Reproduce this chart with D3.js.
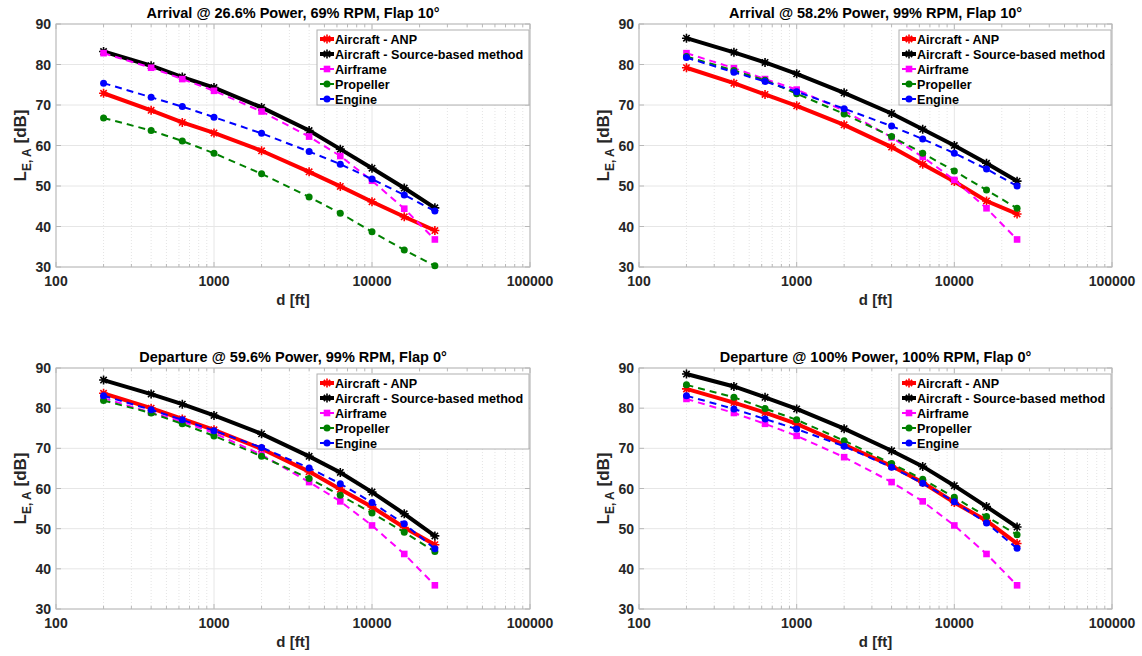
<!DOCTYPE html>
<html>
<head>
<meta charset="utf-8">
<script src="https://cdn.jsdelivr.net/npm/d3@7"></script>
<style>
  body { margin: 0; background: #fff; }
  svg { font-family: "Liberation Sans", Arial, Helvetica, sans-serif; font-weight: bold; }
</style>
</head>
<body>
<div id="graph"></div>
<script>
// distances [ft]
const distances = [200, 400, 630, 1000, 2000, 4000, 6300, 10000, 16000, 25000]

const titles = [
    "Arrival @ 26.6% Power, 69% RPM, Flap 10°",
    "Arrival @ 58.2% Power, 99% RPM, Flap 10°",
    "Departure @ 59.6% Power, 99% RPM, Flap 0°",
    "Departure @ 100% Power, 100% RPM, Flap 0°"
]

const seriesNames = ["Aircraft - ANP", "Aircraft - Source-based method", "Airframe", "Propeller", "Engine"]
const xTicks = [100, 1000, 10000, 100000]
const yTicks = [30, 40, 50, 60, 70, 80, 90]

// Arrival 26.6%
const anp1 = [72.9, 68.7, 65.7, 63.1, 58.7, 53.5, 49.9, 46.1, 42.4, 39.0]
const src1 = [83.2, 79.7, 76.9, 74.3, 69.4, 63.7, 59.1, 54.4, 49.5, 44.6]
const air1 = [82.8, 79.2, 76.4, 73.5, 68.4, 62.2, 57.4, 51.3, 44.4, 36.8]
const prop1 = [66.8, 63.7, 61.1, 58.1, 53.0, 47.3, 43.3, 38.7, 34.2, 30.3]
const eng1 = [75.4, 71.9, 69.6, 67.0, 63.0, 58.5, 55.4, 51.7, 47.8, 43.8]

// Arrival 58.2%
const anp2 = [79.2, 75.4, 72.6, 69.8, 65.1, 59.6, 55.4, 51.1, 46.3, 43.1]
const src2 = [86.5, 83.0, 80.5, 77.7, 73.0, 67.9, 64.0, 60.0, 55.6, 51.2]
const air2 = [82.8, 79.1, 76.4, 73.8, 68.6, 62.0, 57.2, 51.5, 44.5, 36.8]
const prop2 = [82.0, 78.5, 76.1, 72.8, 67.8, 62.2, 58.1, 53.7, 49.0, 44.5]
const eng2 = [81.7, 78.1, 75.8, 73.3, 69.1, 64.8, 61.6, 58.1, 54.2, 50.0]

// Departure 59.6%
const anp3 = [83.7, 80.0, 77.3, 74.6, 69.9, 64.2, 59.8, 55.4, 50.3, 46.0]
const src3 = [87.0, 83.5, 81.0, 78.2, 73.6, 68.0, 64.0, 59.1, 53.7, 48.2]
const air3 = [82.5, 78.9, 76.7, 73.8, 68.4, 61.6, 56.8, 50.8, 43.7, 35.9]
const prop3 = [81.9, 78.8, 76.1, 73.1, 68.0, 62.5, 58.3, 53.9, 49.1, 44.3]
const eng3 = [83.1, 79.6, 77.1, 74.4, 70.2, 65.1, 61.2, 56.5, 51.2, 45.0]

// Departure 100%
const anp4 = [84.8, 81.4, 78.9, 76.1, 70.9, 65.6, 61.5, 56.5, 52.0, 46.3]
const src4 = [88.5, 85.4, 82.7, 79.8, 74.9, 69.4, 65.5, 60.7, 55.5, 50.4]
const air4 = [82.3, 78.8, 76.1, 73.1, 67.8, 61.6, 56.8, 50.8, 43.7, 35.9]
const prop4 = [85.8, 82.7, 79.9, 77.1, 71.9, 66.2, 62.3, 57.8, 53.0, 48.5]
const eng4 = [83.1, 79.8, 77.3, 74.8, 70.5, 65.3, 61.3, 56.7, 51.4, 45.1]

const panelData = [
    [anp1, src1, air1, prop1, eng1],
    [anp2, src2, air2, prop2, eng2],
    [anp3, src3, air3, prop3, eng3],
    [anp4, src4, air4, prop4, eng4]
]

const width = 1142
const height = 656

const styles = [
    { color: "#ff0000", width: 4, dash: null, marker: "star" },
    { color: "#000000", width: 4, dash: null, marker: "star" },
    { color: "#ff00ff", width: 2, dash: "7,5", marker: "square" },
    { color: "#008000", width: 2, dash: "7,5", marker: "circle" },
    { color: "#0000ff", width: 2, dash: "7,5", marker: "circle" }
]

const boxes = [
    { x0: 56, x1: 530, y0: 24, y1: 267 },
    { x0: 639, x1: 1112, y0: 24, y1: 267 },
    { x0: 56, x1: 530, y0: 368, y1: 609 },
    { x0: 639, x1: 1112, y0: 368, y1: 609 }
]

const svg = d3.select("#graph").append("svg")
    .attr("width", width)
    .attr("height", height)

const minorTicks = []
for (let e = 100; e < 100000; e *= 10) {
    for (let k = 2; k <= 9; k++) minorTicks.push(k * e)
}

function drawMarker(g, type, cx, cy, color) {
    if (type === "star") {
        const r = 4.5
        const p = []
        for (let i = 0; i < 4; i++) {
            const a = i * Math.PI / 4
            p.push(`M${cx - r * Math.cos(a)},${cy - r * Math.sin(a)}L${cx + r * Math.cos(a)},${cy + r * Math.sin(a)}`)
        }
        g.append("path").attr("d", p.join("")).attr("stroke", color).attr("stroke-width", 1.6).attr("fill", "none")
    } else if (type === "square") {
        g.append("rect").attr("x", cx - 3.3).attr("y", cy - 3.3).attr("width", 6.6).attr("height", 6.6).attr("fill", color)
    } else {
        g.append("circle").attr("cx", cx).attr("cy", cy).attr("r", 3.5).attr("fill", color)
    }
}

boxes.forEach((b, pi) => {
    const x = d3.scaleLog().domain([100, 100000]).range([b.x0, b.x1])
    const y = d3.scaleLinear().domain([30, 90]).range([b.y1, b.y0])
    const g = svg.append("g")

    // grid
    g.append("g").selectAll("line").data(minorTicks).join("line")
        .attr("x1", d => x(d)).attr("x2", d => x(d))
        .attr("y1", b.y0).attr("y2", b.y1)
        .attr("stroke", "#e4e4e4").attr("stroke-width", 1).attr("stroke-dasharray", "1,2")
    g.append("g").selectAll("line").data(xTicks).join("line")
        .attr("x1", d => x(d)).attr("x2", d => x(d))
        .attr("y1", b.y0).attr("y2", b.y1)
        .attr("stroke", "#e6e6e6")
    g.append("g").selectAll("line").data(yTicks).join("line")
        .attr("x1", b.x0).attr("x2", b.x1)
        .attr("y1", d => y(d)).attr("y2", d => y(d))
        .attr("stroke", "#e6e6e6")

    // tick marks (inside, on both sides)
    const tk = g.append("g").attr("stroke", "#b8b8b8")
    minorTicks.forEach(d => {
        tk.append("line").attr("x1", x(d)).attr("x2", x(d)).attr("y1", b.y1).attr("y2", b.y1 - 3)
        tk.append("line").attr("x1", x(d)).attr("x2", x(d)).attr("y1", b.y0).attr("y2", b.y0 + 3)
    })
    xTicks.forEach(d => {
        tk.append("line").attr("x1", x(d)).attr("x2", x(d)).attr("y1", b.y1).attr("y2", b.y1 - 5)
        tk.append("line").attr("x1", x(d)).attr("x2", x(d)).attr("y1", b.y0).attr("y2", b.y0 + 5)
    })
    yTicks.forEach(d => {
        tk.append("line").attr("x1", b.x0).attr("x2", b.x0 + 5).attr("y1", y(d)).attr("y2", y(d))
        tk.append("line").attr("x1", b.x1).attr("x2", b.x1 - 5).attr("y1", y(d)).attr("y2", y(d))
    })

    // box
    g.append("rect")
        .attr("x", b.x0).attr("y", b.y0)
        .attr("width", b.x1 - b.x0).attr("height", b.y1 - b.y0)
        .attr("fill", "none").attr("stroke", "#b8b8b8").attr("stroke-width", 1)

    // tick labels
    g.append("g").selectAll("text").data(xTicks).join("text")
        .attr("x", d => x(d)).attr("y", b.y1 + 19)
        .attr("text-anchor", "middle").attr("font-size", 14).attr("fill", "#262626")
        .text(d => d)
    g.append("g").selectAll("text").data(yTicks).join("text")
        .attr("x", b.x0 - 5).attr("y", d => y(d) + 5)
        .attr("text-anchor", "end").attr("font-size", 14).attr("fill", "#262626")
        .text(d => d)

    // axis labels
    g.append("text")
        .attr("x", (b.x0 + b.x1) / 2).attr("y", b.y1 + 38)
        .attr("text-anchor", "middle").attr("font-size", 15).attr("fill", "#262626")
        .text("d [ft]")
    const yl = g.append("text")
        .attr("transform", `translate(${b.x0 - 30},${(b.y0 + b.y1) / 2}) rotate(-90)`)
        .attr("text-anchor", "middle").attr("font-size", 17).attr("fill", "#262626")
    yl.append("tspan").text("L")
    yl.append("tspan").attr("font-size", 12).attr("dy", 5).text("E, A")
    yl.append("tspan").attr("dy", -5).text(" [dB]")

    // title
    g.append("text")
        .attr("x", (b.x0 + b.x1) / 2).attr("y", b.y0 - 6)
        .attr("text-anchor", "middle").attr("font-size", 14.5).attr("fill", "#000")
        .text(titles[pi])

    // series
    const line = d3.line().x((d, i) => x(distances[i])).y(d => y(d))
    panelData[pi].forEach((vals, si) => {
        const s = styles[si]
        g.append("path")
            .attr("d", line(vals))
            .attr("fill", "none")
            .attr("stroke", s.color)
            .attr("stroke-width", s.width)
            .attr("stroke-dasharray", s.dash)
        const mg = g.append("g")
        vals.forEach((v, i) => drawMarker(mg, s.marker, x(distances[i]), y(v), s.color))
    })

    // legend
    const lw = 212, lh = 75
    const lx = b.x1 - lw - 1, ly = b.y0 + 6
    const lg = g.append("g")
    lg.append("rect").attr("x", lx).attr("y", ly).attr("width", lw).attr("height", lh)
        .attr("fill", "#fff").attr("stroke", "#b0b0b0").attr("stroke-width", 1)
    seriesNames.forEach((name, si) => {
        const s = styles[si]
        const cy = ly + 9 + si * 15
        lg.append("line").attr("x1", lx + 3).attr("x2", lx + 17).attr("y1", cy).attr("y2", cy)
            .attr("stroke", s.color).attr("stroke-width", s.width)
        drawMarker(lg, s.marker, lx + 10, cy, s.color)
        lg.append("text").attr("x", lx + 18).attr("y", cy + 5)
            .attr("font-size", 12.6).attr("fill", "#000").text(name)
    })
})
</script>
</body>
</html>
